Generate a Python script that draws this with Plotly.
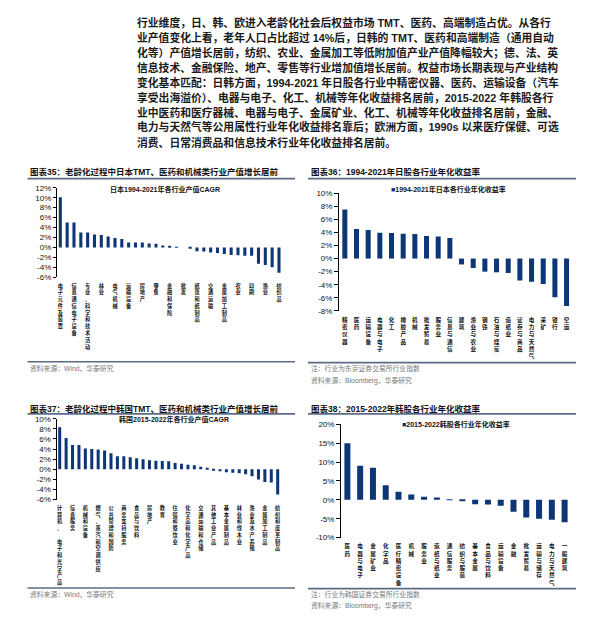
import plotly.graph_objects as go

W, H = 592, 627
NAVY = '#0d3677'
RULE = '#5b6b86'
FONT = 'Liberation Sans, Noto Sans CJK SC'

# ---- data: figure 35, Japan industry output CAGR 1994-2021 (labels on every other bar)
jp_cagr = [10.1, 5.0, 5.0, 3.0, 3.0, 2.6, 2.5, 2.2, 1.9, 1.7, 1.0, 1.0, 1.0, 0.8, 0.75,
           0.4, 0.2, 0.05, 0.0, -0.1, -0.75, -0.8, -1.0, -1.1, -1.3, -1.5, -1.55, -1.65,
           -1.65, -3.25, -3.5, -3.95, -5.05]
jp_cagr_labels = ['电子元件及装置', '信息通信电子设备', '专业、科学和技术活动', '林业', '电气机械',
                  '运输设备', '房地产', '零售', '金融和保险', '批发', '纸张和纸制品', '交通运输',
                  '金属加工制品', '农业', '印刷', '渔业', '纺织品']

# ---- data: figure 36, Japan equity sector annualised return 1994-2021
jp_ret_labels = ['精密仪器', '医药', '运输设备', '电器与电子', '化工', '橡胶产品', '机械', '批发贸易',
                 '服务业', '信息与通信', '建筑', '渔业与农业', '钢铁', '石油与煤炭', '造纸业',
                 '证券与商品', '电力与天然气', '采矿', '银行', '空运']
jp_ret = [7.5, 4.5, 4.35, 3.95, 3.9, 3.8, 3.75, 3.45, 3.35, 3.15, -0.9, -1.45, -2.0, -2.1,
          -2.2, -3.35, -3.55, -3.9, -5.9, -7.25]

# ---- data: figure 37, Korea industry output CAGR 2015-2022 (labels on every other bar)
kr_cagr = [8.3, 6.2, 4.8, 4.8, 4.1, 4.0, 3.9, 3.7, 3.2, 2.6, 2.6, 2.4, 2.2, 2.0, 1.8, 1.7,
           1.65, 1.6, 1.25, 1.1, 0.9, 0.8, 0.5, 0.15, -0.1, -0.4, -0.6, -0.7, -0.8, -1.0,
           -1.4, -2.0, -2.5, -2.6, -5.0]
kr_cagr_labels = ['计算机、　电子和光学产品', '信息服务', '机械和设备', '燃气、蒸汽和空调供应',
                  '公共管理和国防', '商务支持服务', '食品与饮料', '房地产', '教育', '住宿和餐饮业',
                  '化学品和化学产品', '交通运输和仓储', '其他工业产品', '基本金属制品',
                  '林业和伐木业', '渔业及水产养殖', '金属加工制品', '纺织和皮革制品']

# ---- data: figure 38, Korea equity sector annualised return 2015-2022
kr_ret_labels = ['医药', '电器与电子', '金属矿业', '化学品', '医疗精密设备', '机械', '服务业',
                 '造纸与纸业', '通信服务', '纺织与服装', '基本金属', '食品与饮料', '运输设备', '金融',
                 '批发贸易', '运输与储存', '电力与天然气', '一般建筑']
kr_ret = [15.0, 9.0, 8.5, 3.85, 2.15, 1.4, 0.85, 0.65, 0.05, -0.15, -1.15, -1.2, -1.55,
          -3.15, -4.7, -5.0, -5.25, -5.9]

paragraph = [
    '行业维度，日、韩、欧进入老龄化社会后权益市场 TMT、医药、高端制造占优。从各行',
    '业产值变化上看，老年人口占比超过 14%后，日韩的 TMT、医药和高端制造（通用自动',
    '化等）产值增长居前，纺织、农业、金属加工等低附加值产业产值降幅较大；德、法、英',
    '信息技术、金融保险、地产、零售等行业增加值增长居前。权益市场长期表现与产业结构',
    '变化基本匹配：日韩方面，1994-2021 年日股各行业中精密仪器、医药、运输设备（汽车',
    '享受出海溢价）、电器与电子、化工、机械等年化收益排名居前，2015-2022 年韩股各行',
    '业中医药和医疗器械、电器与电子、金属矿业、化工、机械等年化收益排名居前，金融、',
    '电力与天然气等公用属性行业年化收益排名靠后；欧洲方面，1990s 以来医疗保健、可选',
    '消费、日常消费品和信息技术行业年化收益排名居前。',
]


def px(x):
    return x / W


def py(y):
    return 1 - y / H


def vertical(s):
    return '<br>'.join(s)


# panel layout (pixel boxes measured from the page)
panels = [
    dict(vals=jp_cagr, labels=jp_cagr_labels, step=2, yr=(-6, 12), dtick=2,
         box=(48.9, 274.4, 178.3, 269.3), bw=0.45, lab=5.2, ylen=3),
    dict(vals=jp_ret, labels=jp_ret_labels, step=1, yr=(-8, 10), dtick=2,
         box=(331, 564.4, 183.7, 303.3), bw=0.43, lab=5.6, ylen=4),
    dict(vals=kr_cagr, labels=kr_cagr_labels, step=2, yr=(-6, 10), dtick=2,
         box=(48.5, 272.9, 412.7, 494.7), bw=0.47, lab=5.2, ylen=3),
    dict(vals=kr_ret, labels=kr_ret_labels, step=1, yr=(-10, 20), dtick=5,
         box=(333, 563, 418.3, 533.3), bw=0.47, lab=5.6, ylen=4),
]

fig = go.Figure()
layout = {}
for k, p in enumerate(panels, start=1):
    n = len(p['vals'])
    x0, x1, yt, yb = p['box']
    ymin, ymax = p['yr']
    sfx = '' if k == 1 else str(k)
    fig.add_trace(go.Bar(x=list(range(n)), y=p['vals'], width=p['bw'], marker_color=NAVY,
                         marker_line_width=0, xaxis='x' + sfx, yaxis='y' + sfx,
                         showlegend=False, hoverinfo='y'))
    ydom = [py(yb), py(yt)]
    yticks = list(range(ymin, ymax + 1, p['dtick']))
    layout['xaxis' + sfx] = dict(
        domain=[px(x0), px(x1)], range=[-0.5, n - 0.5], anchor='y' + sfx,
        tickvals=list(range(0, n, p['step'])),
        ticktext=[vertical(s) for s in p['labels']],
        tickangle=0, ticks='outside', ticklen=3, tickcolor='rgba(0,0,0,0)',
        tickfont=dict(size=p['lab'], color='#111', family='Noto Sans CJK SC', weight=700),
        showline=False, showgrid=False, zeroline=False, fixedrange=True)
    layout['yaxis' + sfx] = dict(
        domain=ydom, range=[ymin, ymax], anchor='x' + sfx,
        tickvals=yticks, ticktext=['%d%%' % v for v in yticks],
        ticks='outside', ticklen=p['ylen'], tickcolor='black',
        showline=True, linecolor='black', linewidth=1,
        showgrid=False, zeroline=False, fixedrange=True,
        tickfont=dict(size=8, color='#111', family=FONT))
    # zero-line axis with boundary ticks
    zero_pos = ydom[0] + (ydom[1] - ydom[0]) * (0 - ymin) / (ymax - ymin)
    layout['xaxis' + str(k + 4)] = dict(
        domain=[px(x0), px(x1)], range=[-0.5, n - 0.5], overlaying='x' + sfx,
        anchor='free', position=zero_pos,
        tickvals=[i - 0.5 for i in range(n + 1)], ticks='outside', ticklen=3,
        tickcolor='black', showticklabels=False, showline=True, linecolor='black',
        linewidth=1, showgrid=False, zeroline=False, fixedrange=True)

annotations = []


def text(x, y, s, size, color='#111', bold=False):
    annotations.append(dict(
        x=px(x), y=py(y), xref='paper', yref='paper', text=s, showarrow=False,
        xanchor='left', yanchor='middle', borderpad=0,
        font=dict(size=size, color=color, family=FONT, weight=700 if bold else 400)))


for i, line in enumerate(paragraph):
    text(128, 11 + i * 15.15, line, 10.8, color='#1a1a1a', bold=True)

text(20.5, 162.5, '图表35：老龄化过程中日本TMT、医药和机械类行业产值增长居前', 8.5, bold=True)
text(301.5, 162.5, '图表36：1994-2021年日股各行业年化收益率', 8.5, bold=True)
text(20.5, 402.3, '图表37：老龄化过程中韩国TMT、医药和机械类行业产值增长居前', 8.5, bold=True)
text(301.5, 402.3, '图表38：2015-2022年韩股各行业年化收益率', 8.5, bold=True)

text(100.7, 180, '日本1994-2021年各行业产值CAGR', 7, bold=True)
text(110, 413.7, '韩国2015-2022年各行业产值CAGR', 7, bold=True)
text(382.3, 180, '<span style="color:%s">■</span>1994-2021年日本各行业年化收益率' % NAVY,
     7, bold=True)
text(392.7, 418.3, '<span style="color:%s">■</span>2015-2022韩股各行业年化收益率' % NAVY,
     7, bold=True)

text(20.5, 362, '资料来源：Wind，华泰研究', 6.8, color='#777')
text(301.5, 362, '注：行业为东京证券交易所行业指数', 6.8, color='#777')
text(301.5, 373.5, '资料来源：Bloomberg，华泰研究', 6.8, color='#777')
text(20.5, 591, '资料来源：Wind，华泰研究', 6.8, color='#777')
text(301.5, 591, '注：行业为韩国证券交易所行业指数', 6.8, color='#777')
text(301.5, 602.5, '资料来源：Bloomberg，华泰研究', 6.8, color='#777')

shapes = []
for (xa, xb, y, w) in [(19.5, 287, 169, 1.8), (300, 568, 169, 1.8),
                       (19.5, 287, 354.8, 1.6), (300, 568, 355.7, 1.6),
                       (19.5, 287, 407.7, 1.8), (300, 568, 407.7, 1.8),
                       (19.5, 287, 584.4, 1.6), (300, 568, 585, 1.6)]:
    shapes.append(dict(type='line', xref='paper', yref='paper', x0=px(xa), x1=px(xb),
                       y0=py(y), y1=py(y), line=dict(color=RULE, width=w)))

fig.update_layout(
    width=W, height=H, margin=dict(l=0, r=0, t=0, b=0),
    paper_bgcolor='white', plot_bgcolor='rgba(0,0,0,0)',
    font=dict(family=FONT, size=8, color='#111'),
    annotations=annotations, shapes=shapes, showlegend=False, bargap=0.5,
    **layout)

fig.write_html('out.html')
